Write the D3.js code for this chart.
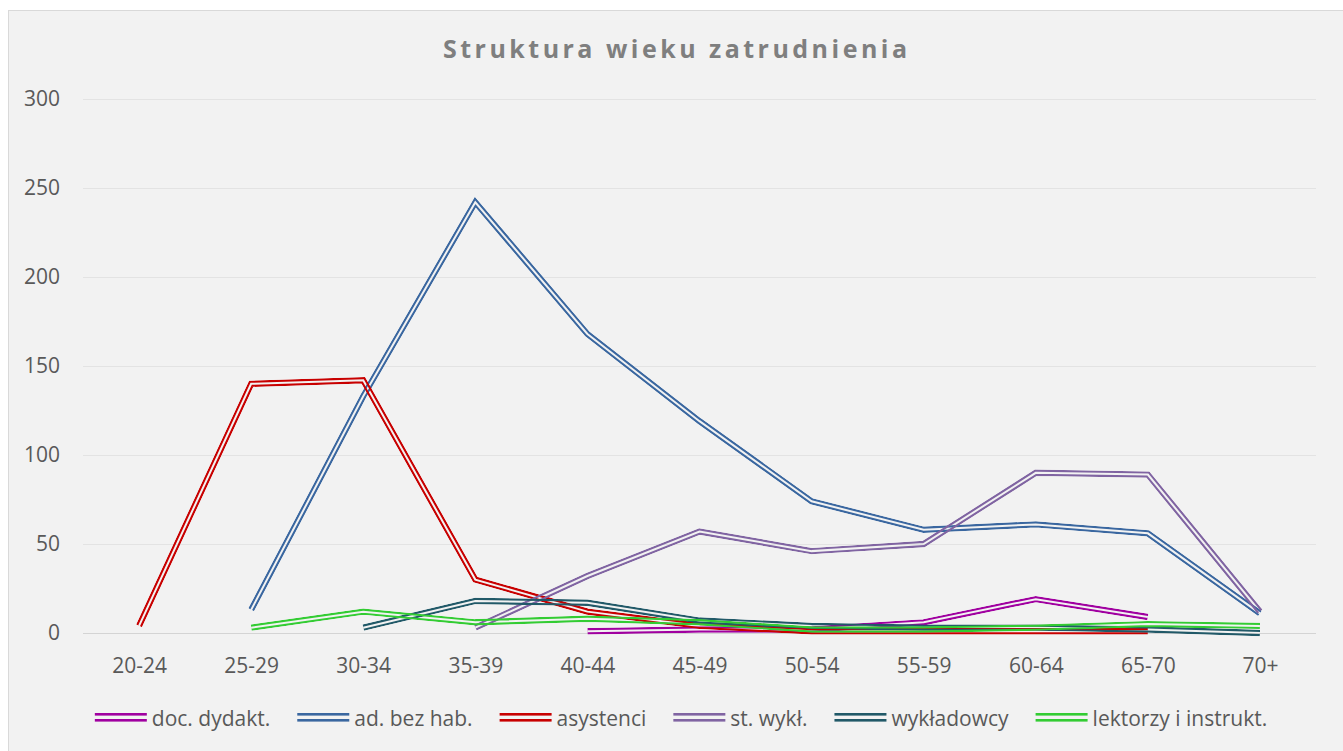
<!DOCTYPE html>
<html>
<head>
<meta charset="utf-8">
<script src="https://cdn.jsdelivr.net/npm/d3@7"></script>
<style>
  html, body { margin: 0; padding: 0; background: #fff; }
  svg { display: block; font-family: "Open Sans", "Liberation Sans", sans-serif; }
</style>
</head>
<body>
<div id="chart"></div>
<script>
// categories and series (null = no point)
var ageGroups = ["20-24", "25-29", "30-34", "35-39", "40-44", "45-49", "50-54", "55-59", "60-64", "65-70", "70+"];
var docDydakt = [null, null, null, null, 1, 2, 2, 6, 19, 9, null];
var adBezHab = [null, 13, 133, 242, 168, 119, 74, 58, 61, 56, 11];
var asystenci = [4, 140, 142, 30, 12, 4, 1, 1, 1, 1, null];
var stWykl = [null, null, null, 3, 32, 57, 46, 50, 90, 89, 12];
var wykladowcy = [null, null, 3, 18, 17, 7, 4, 3, 3, 2, 0];
var lektorzy = [null, 3, 12, 6, 8, 6, 2, 2, 3, 5, 4];
var yTicks = [0, 50, 100, 150, 200, 250, 300];

var series = [
    { name: "doc. dydakt.", values: docDydakt, color: "#a000a0" },
    { name: "ad. bez hab.", values: adBezHab, color: "#3a67a0" },
    { name: "asystenci", values: asystenci, color: "#c80000" },
    { name: "st. wykł.", values: stWykl, color: "#8064a2" },
    { name: "wykładowcy", values: wykladowcy, color: "#215968" },
    { name: "lektorzy i instrukt.", values: lektorzy, color: "#33cc33" }
];

var width = 1343, height = 751;
var bg = "#f2f2f2";
var margin = { left: 83, right: 27, top: 99, bottom: 118 };

var svg = d3.select("#chart")
    .append("svg")
    .attr("width", width)
    .attr("height", height);

svg.append("rect")
    .attr("x", 8.5).attr("y", 10.5)
    .attr("width", 1340).attr("height", 745)
    .attr("fill", bg)
    .attr("stroke", "#d9d9d9");

var x = d3.scalePoint()
    .domain(ageGroups)
    .range([margin.left, width - margin.right])
    .padding(0.5);

var y = d3.scaleLinear()
    .domain([0, 300])
    .range([height - margin.bottom, margin.top]);

// title (wide letter spacing)
svg.append("text")
    .attr("x", 443)
    .attr("y", 58)
    .attr("font-size", 25)
    .attr("font-weight", "bold")
    .attr("textLength", 464)
    .attr("lengthAdjust", "spacing")
    .attr("fill", "#7f7f7f")
    .text("Struktura wieku zatrudnienia");

// grid + y labels
var yAxis = svg.append("g")
    .attr("transform", "translate(" + margin.left + ",0)")
    .call(d3.axisLeft(y).tickValues(yTicks).tickSize(-(width - margin.left - margin.right)).tickPadding(23));
yAxis.select(".domain").remove();
yAxis.selectAll(".tick line")
    .attr("stroke", function(d) { return d === 0 ? "#d4d4d4" : "#e3e3e3"; })
    .attr("stroke-width", 1);
yAxis.selectAll(".tick text")
    .attr("font-size", 21)
    .attr("fill", "#595959")
    .attr("font-family", "Open Sans, sans-serif");

// x labels
var xAxis = svg.append("g")
    .attr("transform", "translate(0," + y(0) + ")")
    .call(d3.axisBottom(x).tickSize(0));
xAxis.select(".domain").remove();
xAxis.selectAll(".tick text")
    .attr("y", 40)
    .attr("dy", 0)
    .attr("font-size", 21)
    .attr("fill", "#595959")
    .attr("font-family", "Open Sans, sans-serif");

// double lines, gap done with a mask so lines beneath show through
var line = d3.line()
    .defined(function(d) { return d != null; })
    .x(function(d, i) { return x(ageGroups[i]); })
    .y(function(d) { return y(d); });

var defs = svg.append("defs");
var outerW = 6.4, gapW = 2;

series.forEach(function(s, i) {
    var m = defs.append("mask")
        .attr("id", "m" + i)
        .attr("maskUnits", "userSpaceOnUse")
        .attr("x", 0).attr("y", 0)
        .attr("width", width).attr("height", height);
    m.append("path")
        .attr("d", line(s.values))
        .attr("fill", "none")
        .attr("stroke", "white")
        .attr("stroke-width", outerW)
        .attr("stroke-linejoin", "miter");
    m.append("path")
        .attr("d", line(s.values))
        .attr("fill", "none")
        .attr("stroke", "black")
        .attr("stroke-width", gapW)
        .attr("stroke-linejoin", "miter");
});

svg.append("g").selectAll("path")
    .data(series)
    .enter()
    .append("path")
    .attr("d", function(d) { return line(d.values); })
    .attr("fill", "none")
    .attr("stroke", function(d) { return d.color; })
    .attr("stroke-width", outerW)
    .attr("stroke-linejoin", "miter")
    .attr("mask", function(d, i) { return "url(#m" + i + ")"; });

// legend
var legend = svg.append("g").attr("transform", "translate(0,718)");
var items = legend.selectAll("g")
    .data(series)
    .enter()
    .append("g");
items.append("rect")
    .attr("x", 0).attr("y", -5).attr("width", 52).attr("height", 2.6)
    .attr("fill", function(d) { return d.color; });
items.append("rect")
    .attr("x", 0).attr("y", 1).attr("width", 52).attr("height", 2.6)
    .attr("fill", function(d) { return d.color; });
items.append("text")
    .attr("x", 57)
    .attr("y", 8)
    .attr("font-size", 21)
    .attr("fill", "#595959")
    .text(function(d) { return d.name; });

var widths = [];
items.each(function() {
    widths.push(57 + d3.select(this).select("text").node().getComputedTextLength());
});
var spacing = 27;
var total = d3.sum(widths) + spacing * (widths.length - 1);
var pos = 681 - total / 2;
items.attr("transform", function(d, i) {
    var p = pos;
    pos += widths[i] + spacing;
    return "translate(" + p + ",0)";
});
</script>
</body>
</html>
